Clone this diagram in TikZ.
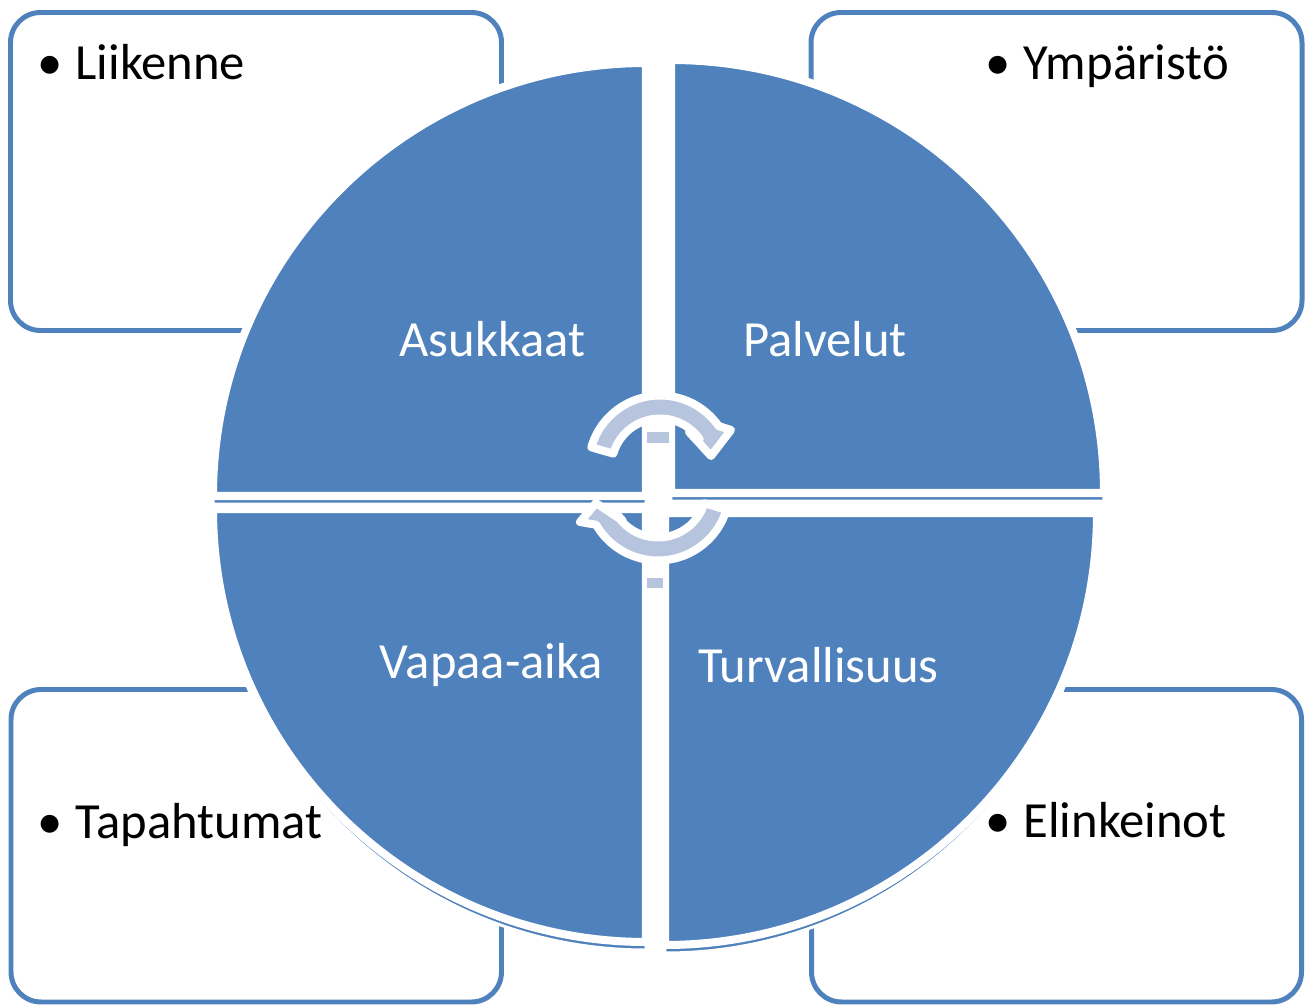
\documentclass[tikz,border=0pt]{standalone}
\usepackage{fontspec}
\setmainfont{Carlito}
\usepackage{tikz}
\definecolor{quartblue}{RGB}{79,129,189}
\definecolor{cyclefill}{RGB}{182,196,222}
\begin{document}
\begin{tikzpicture}[x=0.01cm,y=0.01cm,
    box/.style={draw=quartblue, line width=1.42pt, rounded corners=0.3cm, fill=white},
    quarter/.style={fill=quartblue, draw=white, line width=2.28pt},
    echo/.style={fill=quartblue, draw=white, line width=0.85pt},
    cyclearrow/.style={fill=cyclefill, draw=white, line width=2.28pt, line join=round},
    itemtext/.style={anchor=base west, inner sep=0pt, font=\fontsize{14.4}{17}\selectfont},
    qtext/.style={anchor=base, inner sep=0pt, text=white, font=\fontsize{14.4}{17}\selectfont}]

    \useasboundingbox (0,0) rectangle (1308,1005);

    % corner boxes
    \foreach \xa/\ya/\xb/\yb in {10.5/674.5/501.5/992.5, 811/674.5/1302/992.5,
                                 11/3/501.5/315.5, 811.5/3/1301.5/315.5}{
        \draw[box] (\xa,\ya) rectangle (\xb,\yb);
    }

    % shifted copies behind, then the four quarters
    \foreach \cx/\cy/\r/\a in {646/509/433/90, 671/512/433/0, 646/496/433/180, 665/492/432/270}{
        \draw[echo] (\cx,\cy-8) -- ++(\a:\r) arc[start angle=\a, end angle=\a+90, radius=\r] -- cycle;
    }
    \foreach \cx/\cy/\r/\a in {646/509/433/90, 671/512/433/0, 646/496/433/180, 665/492/432/270}{
        \draw[quarter] (\cx,\cy) -- ++(\a:\r) arc[start angle=\a, end angle=\a+90, radius=\r] -- cycle;
    }

    % bits in the gap
    \fill[cyclefill] (647,562) rectangle (669,573);
    \fill[cyclefill] (647,417) rectangle (663,427);

    % circular arrows
    \draw[cyclearrow] (591.3,557.7) arc[start angle=164, end angle=35, radius=71.5]
        -- (731,575) -- (711,549) -- (689,573) -- (699.7,565.8)
        arc[start angle=35, end angle=164, radius=48.5] -- cycle;
    \draw[cyclearrow] (726.4,495.1) arc[start angle=343, end angle=210, radius=71.5]
        -- (580,483) -- (596,502) -- (623,484) -- (616,491.75)
        arc[start angle=210, end angle=343, radius=48.5] -- cycle;

    % quarter labels
    \node[qtext] (asukkaat) at (492.5,649) {Asukkaat};
    \node[qtext] (palvelut) at (825,649) {Palvelut};
    \node[qtext] (vapaa) at (491.5,327) {Vapaa-aika};
    \node[qtext] (turva) at (818.5,323) {Turvallisuus};

    % box items
    \node[itemtext] (liikenne) at (37,925) {\textbullet\hspace{3.6pt}Liikenne};
    \node[itemtext] (ympar) at (985,925) {\textbullet\hspace{3.6pt}Ympäristö};
    \node[itemtext] (tapaht) at (37,167) {\textbullet\hspace{3.6pt}Tapahtumat};
    \node[itemtext] (elink) at (985,168) {\textbullet\hspace{3.6pt}Elinkeinot};

\end{tikzpicture}
\end{document}
